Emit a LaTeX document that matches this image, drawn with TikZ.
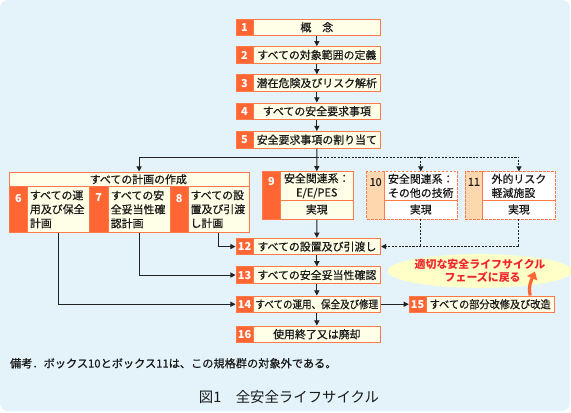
\documentclass[tikz,border=0pt]{standalone}
\usepackage{fontspec}
\setmainfont{Noto Sans CJK JP}
\newfontfamily\medf{Noto Sans CJK JP}[FakeBold=0.6]
\usetikzlibrary{arrows.meta,calc,shapes.geometric}
\definecolor{bgblue}{HTML}{E3F3F9}
\definecolor{numor}{HTML}{FF6633}
\definecolor{bord}{HTML}{FF7A48}
\definecolor{lyel}{HTML}{FFFEE6}
\definecolor{peach}{HTML}{FDD8AE}
\definecolor{txtk}{HTML}{1A1A1A}
\definecolor{linek}{HTML}{222222}
\definecolor{redt}{HTML}{F2262E}
\definecolor{elly}{HTML}{FFFFC8}
\newcommand\bxf{\medf\fontsize{8.2}{10.5}\selectfont}
% \bx{name}{style}{x1}{y1}{x2}{y2}{text}
\newcommand\bx[7]{\node[#2,minimum width={(#5-#3)*0.75pt},minimum height={(#6-#4)*0.75pt}] (#1) at ({(#3+#5)/2},{(#4+#6)/2}) {#7};}
\begin{document}
\begin{tikzpicture}[x=0.75pt,y=-0.75pt,
  every node/.style={inner sep=0pt,font=\bxf,text=txtk},
  numc/.style={fill=numor,draw=bord,line width=0.75pt,text=white,font=\fontsize{8.2}{10.5}\selectfont\bfseries},
  txtb/.style={fill=lyel,draw=bord,line width=0.75pt},
  subt/.style={txtb,align=left,text width=42.5pt},
  whitec/.style={fill=white},
  peachc/.style={fill=peach},
  numlbl/.style={anchor=north,yshift=-5.6pt,text=white,font=\fontsize{8.2}{10.5}\selectfont\bfseries},
  numlblk/.style={anchor=north,yshift=-4.7pt,text=txtk,font=\bxf},
  conn/.style={draw=linek,line width=0.75pt},
  arr/.style={conn,-{Triangle[length=3.8pt,width=3.8pt]}},
  darr/.style={arr,dash pattern=on 1.6pt off 1pt},
  dln/.style={conn,dash pattern=on 1.6pt off 1pt},
  obord/.style={draw=bord,line width=0.75pt,dash pattern=on 2pt off 1pt},
  inline/.style={draw=bord,line width=0.6pt},
  oarr/.style={draw=numor,line width=2.4pt,-{Triangle[length=5.5pt,width=8pt]}},
]
\useasboundingbox (0,0) rectangle (571,412);
\fill[white] (0,0) rectangle (571,412);
\fill[bgblue,rounded corners=6pt] (0,0) rectangle (570,411);

% main column
\bx{n1}{numc}{236}{19}{253.1}{35.5}{1}
\bx{t1}{txtb}{253.1}{19}{380.6}{35.5}{概　念}
\bx{n2}{numc}{236}{46.7}{253.1}{63.2}{2}
\bx{t2}{txtb}{253.1}{46.7}{380.6}{63.2}{すべての対象範囲の定義}
\bx{n3}{numc}{236}{74.8}{253.1}{91.3}{3}
\bx{t3}{txtb}{253.1}{74.8}{380.6}{91.3}{潜在危険及びリスク解析}
\bx{n4}{numc}{236}{103}{253.1}{119.5}{4}
\bx{t4}{txtb}{253.1}{103}{380.6}{119.5}{すべての安全要求事項}
\bx{n5}{numc}{236}{131.5}{253.1}{148}{5}
\bx{t5}{txtb}{253.1}{131.5}{380.6}{148}{安全要求事項の割り当て}

% plan box
\bx{ph}{txtb}{9.8}{172}{249.5}{186.7}{\hspace*{13pt}すべての計画の作成}
\bx{n6}{numc,label={[numlbl]north:6}}{9.8}{186.7}{27.3}{232}{}
\bx{t6}{subt}{27.3}{186.7}{89.2}{232}{すべての運\\用及び保全\\計画}
\bx{n7}{numc,label={[numlbl]north:7}}{89.2}{186.7}{108.2}{232}{}
\bx{t7}{subt}{108.2}{186.7}{170}{232}{すべての安\\全妥当性確\\認計画}
\bx{n8}{numc,label={[numlbl]north:8}}{170}{186.7}{188.3}{232}{}
\bx{t8}{subt}{188.3}{186.7}{249.5}{232}{すべての設\\置及び引渡\\し計画}

% box 9
\bx{n9}{numc,label={[numlbl,yshift=1.1pt]north:9}}{262.6}{171.7}{280.4}{219}{}
\bx{t9}{txtb,align=center}{280.4}{171.7}{353.2}{200}{安全関連系：\\E/E/PES}
\bx{t9r}{txtb}{280.4}{200}{353.2}{219}{実現}

% box 10
\bx{n10}{peachc,label={[numlblk]north:10}}{367}{171.7}{384.2}{219}{}
\bx{t10}{whitec,align=left}{384.2}{171.7}{457.4}{200}{安全関連系：\\その他の技術}
\bx{t10r}{whitec}{384.2}{200}{457.4}{219}{実現}
\draw[inline] (t10.north west) -- (t10r.south west);
\draw[inline] (t10.south west) -- (t10.south east);
\draw[obord] (n10.north west) rectangle (t10r.south east);

% box 11
\bx{n11}{peachc,label={[numlblk]north:11}}{465.4}{171.7}{482.5}{219}{}
\bx{t11}{whitec,align=left}{482.5}{171.7}{555.4}{200}{外的リスク\\軽減施設}
\bx{t11r}{whitec}{482.5}{200}{555.4}{219}{実現}
\draw[inline] (t11.north west) -- (t11r.south west);
\draw[inline] (t11.south west) -- (t11.south east);
\draw[obord] (n11.north west) rectangle (t11r.south east);

% lower column
\bx{n12}{numc}{236}{238.3}{253.1}{254.8}{12}
\bx{t12}{txtb}{253.1}{238.3}{380.6}{254.8}{すべての設置及び引渡し}
\bx{n13}{numc}{236}{266.8}{253.1}{283.3}{13}
\bx{t13}{txtb}{253.1}{266.8}{380.6}{283.3}{すべての安全妥当性確認}
\bx{n14}{numc}{236}{296}{253.1}{312.5}{14}
\bx{t14}{txtb}{253.1}{296}{380.6}{312.5}{\scalebox{0.87}[1]{すべての運用、保全及び修理}}
\bx{n16}{numc}{236}{326}{253.1}{342.5}{16}
\bx{t16}{txtb}{253.1}{326}{380.6}{342.5}{使用終了又は廃却}
\bx{n15}{numc}{409.3}{296}{426}{312.5}{15}
\bx{t15}{txtb}{426}{296}{554.3}{312.5}{\scalebox{0.93}[1]{すべての部分改修及び改造}}

% return ellipse
\node[ellipse,fill=elly,minimum width=112.5pt,minimum height=21pt,align=center,
  text=redt,font=\fontsize{8.2}{10}\selectfont\bfseries] (ret) at (480,271)
  {適切な安全ライフサイクル\\\hspace*{4pt}フェーズに戻る};
\coordinate (rettip) at (535,271.5);

% connectors
\draw[arr] (t1.south) -- (t2.north);
\draw[arr] (t2.south) -- (t3.north);
\draw[arr] (t3.south) -- (t4.north);
\draw[arr] (t4.south) -- (t5.north);
\coordinate (jn) at (316.85,157.3);
\draw[arr] (t5.south) -- (t9.north);
\draw[arr] (jn) -| (t7.north |- ph.north);
\draw[darr] (jn) -| (t11.north);
\draw[darr] (t10.north |- jn) -- (t10.north);
\draw[arr] (t9r.south) -- (t12.north);
\draw[arr] (t8.south) |- (n12.west);
\draw[darr] (t11r.south) |- (t12.east);
\draw[dln] (t10r.south) -- (t10r.south |- t12.east);
\draw[arr] (t12.south) -- (t13.north);
\draw[arr] (t7.south) |- (n13.west);
\draw[arr] (t13.south) -- (t14.north);
\draw[arr] (t6.south) |- (n14.west);
\draw[arr] (t14.east) -- (n15.west);
\draw[arr] (t14.south) -- (t16.north);
\draw[oarr] ($(t15.north west)!0.81!(t15.north east)$) .. controls (528,287) and (531,281) .. (rettip);

% texts
\node[anchor=west,font=\medf\fontsize{8.4}{10}\selectfont] (note) at (9.8,363.3) {備考．ボックス10とボックス11は、この規格群の対象外である。};
\node[font=\fontsize{10.8}{13}\selectfont] (cap) at (289,396.7) {図1　全安全ライフサイクル};
\end{tikzpicture}
\end{document}
